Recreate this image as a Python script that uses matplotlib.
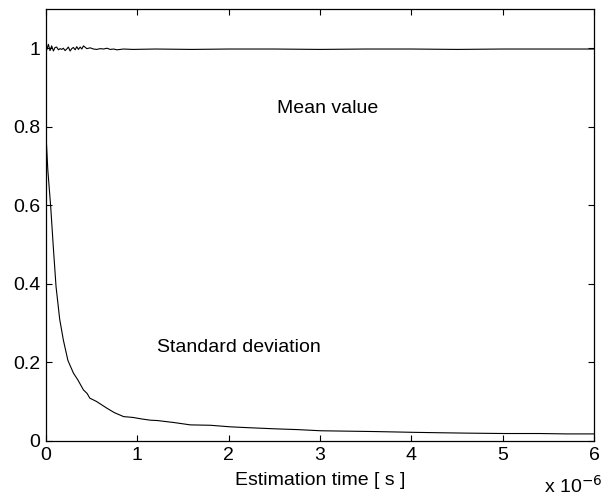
import matplotlib
matplotlib.use("Agg")
import matplotlib.pyplot as plt
import numpy as np

plt.rcParams['font.family'] = ['Liberation Sans', 'DejaVu Sans']

# estimation time in units of 1e-6 s
mean_t = [0.0, 0.007, 0.026, 0.044, 0.062, 0.081, 0.099, 0.117, 0.136, 0.154, 0.172,
          0.19, 0.209, 0.227, 0.245, 0.264, 0.282, 0.30, 0.319, 0.337, 0.355,
          0.374, 0.392, 0.41, 0.447, 0.484, 0.52, 0.557, 0.594, 0.63, 0.667,
          0.704, 0.74, 0.777, 0.85, 0.95, 1.2, 1.6, 2.0, 2.5, 3.0, 3.5, 4.0,
          4.5, 5.0, 5.5, 6.0]
mean_v = [1.0, 0.995, 1.010, 0.994, 1.006, 0.993, 1.002, 1.003, 0.996, 0.999, 0.997,
          1.000, 0.994, 0.998, 1.003, 0.993, 0.999, 1.002, 0.996, 1.004, 0.997,
          1.003, 0.998, 1.006, 0.999, 1.001, 0.998, 0.997, 0.999, 0.998, 1.000,
          0.997, 0.998, 0.996, 0.998, 0.997, 0.998, 0.997, 0.998, 0.998, 0.997,
          0.998, 0.998, 0.997, 0.998, 0.998, 0.998]

std_t = [0.0, 0.02, 0.052, 0.08, 0.11, 0.15, 0.19, 0.24, 0.30, 0.35, 0.41, 0.45,
         0.48, 0.55, 0.61, 0.67, 0.75, 0.85, 0.95, 1.05, 1.14, 1.22, 1.4, 1.58,
         1.8, 2.02, 2.2, 2.5, 2.75, 3.01, 3.3, 3.6, 4.03, 4.3, 4.6, 5.02, 5.4,
         5.7, 6.0]
std_v = [0.78, 0.69, 0.595, 0.494, 0.393, 0.31, 0.257, 0.205, 0.173, 0.155, 0.130, 0.121,
         0.109, 0.101, 0.092, 0.083, 0.072, 0.062, 0.060, 0.056, 0.053, 0.052, 0.047, 0.041,
         0.040, 0.036, 0.034, 0.031, 0.029, 0.026, 0.025, 0.024, 0.022, 0.021, 0.020, 0.019,
         0.019, 0.018, 0.018]

fig = plt.figure(figsize=(6.1, 4.98), dpi=100)
ax = fig.add_axes([0.0754, 0.1145, 0.8984, 0.8675])

ax.plot(mean_t, mean_v, color='black', linewidth=0.8)
ax.plot(std_t, std_v, color='black', linewidth=0.8)

ax.set_xlim(0, 6)
ax.set_ylim(0, 1.1)
ax.set_xticks(np.arange(0, 7, 1))
ax.set_xticklabels(['0', '1', '2', '3', '4', '5', '6'])
ax.set_yticks([0, 0.2, 0.4, 0.6, 0.8, 1.0])
ax.set_yticklabels(['0', '0.2', '0.4', '0.6', '0.8', '1'])
ax.tick_params(direction='in', length=4, width=0.8, top=True, right=True,
               labelsize=14, pad=4)
for s in ax.spines.values():
    s.set_linewidth(0.9)

ax.set_xlabel('Estimation time [ s ]', fontsize=14, labelpad=6)
ax.text(3.08, 0.847, 'Mean value', fontsize=14, ha='center', va='center')
ax.text(1.22, 0.239, 'Standard deviation', fontsize=14, ha='left', va='center')
fig.text(0.892, 0.01, r'x 10$^{-6}$', fontsize=14, ha='left', va='baseline')

fig.savefig('out.png', dpi=100)
